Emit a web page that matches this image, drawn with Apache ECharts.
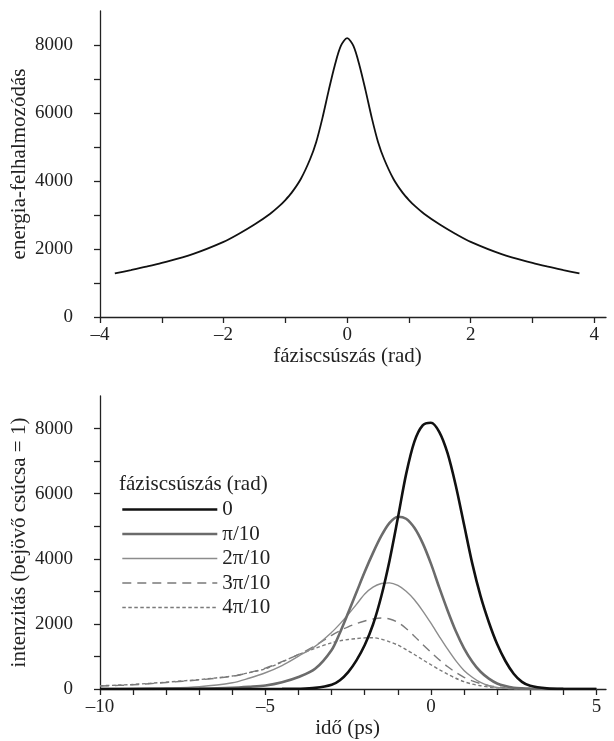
<!DOCTYPE html>
<html><head><meta charset="utf-8">
<script src="https://cdn.jsdelivr.net/npm/echarts@6/dist/echarts.min.js"></script>
<style>html,body{margin:0;padding:0;background:#fff}#c{width:614px;height:741px}</style>
</head><body><div id="c"></div>
<script>
// ---- top panel data ----
const phaseX = [-3.76,-3.5,-3.25,-3,-2.5,-2,-1.75,-1.5,-1.25,-1.1,-1,-0.9,-0.75,-0.6,-0.5,-0.4,-0.3,-0.2,-0.1,0,0.1,0.2,0.3,0.4,0.5,0.6,0.75,0.9,1,1.1,1.25,1.5,1.75,2,2.5,3,3.25,3.5,3.76];
const energy = [1280,1380,1480,1590,1850,2210,2450,2720,3030,3260,3440,3650,4060,4640,5150,5850,6650,7400,7980,8200,7980,7400,6650,5850,5150,4640,4060,3650,3440,3260,3030,2720,2450,2210,1850,1590,1480,1380,1280];

// ---- bottom panel data ----
const timeX = [-10,-9,-8,-7,-6,-5.5,-5,-4.5,-4,-3.5,-3,-2.75,-2.5,-2.25,-2,-1.75,-1.5,-1.25,-1,-0.75,-0.5,-0.25,0,0.25,0.5,0.75,1,1.25,1.5,1.75,2,2.25,2.5,2.75,3,3.5,4,5];
const shift0 = [0,0,0,0,0,0,1,3,8,35,130,270,520,880,1350,1980,2850,3950,5250,6600,7600,8100,8180,7900,7250,6250,5050,3850,2850,2050,1380,860,470,220,100,20,3,0];
const shift1 = [0,2,6,15,40,70,110,210,370,620,1200,1730,2340,2970,3600,4180,4700,5100,5290,5230,4950,4480,3850,3120,2420,1780,1250,840,530,320,170,90,40,20,10,3,0,0];
const shift2 = [10,15,30,70,190,330,500,720,1010,1310,1740,2000,2290,2600,2920,3130,3240,3260,3180,3000,2740,2400,2020,1620,1230,870,570,360,200,100,45,20,8,3,0,0,0,0];
const shift3 = [90,130,200,280,390,500,640,840,1060,1330,1650,1790,1910,2010,2090,2150,2180,2150,2050,1860,1620,1370,1130,900,690,510,360,250,165,105,65,35,15,6,2,0,0,0];
const shift4 = [100,140,210,290,400,500,620,830,1060,1250,1420,1480,1520,1550,1570,1575,1530,1450,1350,1210,1060,900,745,595,455,330,225,150,100,60,35,20,10,5,2,0,0,0];
const legendNames = ['0','\u03c0/10','2\u03c0/10','3\u03c0/10','4\u03c0/10'];

const yTicks = [0,1000,2000,3000,4000,5000,6000,7000,8000];
const yLabels = [0,2000,4000,6000,8000];
const phaseTicks = [-4,-3,-2,-1,0,1,2,3,4];
const phaseLabels = [-4,-2,0,2,4];
const timeTicks = [-10,-9,-8,-7,-6,-5,-4,-3,-2,-1,0,1,2,3,4,5];
const timeLabels = [-10,-5,0,5];

const FONT = "'Liberation Serif','DejaVu Serif',serif";
const AX = '#222';
const fmt = v => String(v).replace('-', '\u2013');
const zip = (xs, ys) => xs.map((x, i) => [x, ys[i]]);

function xAxis(grid, min, max, ticks, labels, name, gap) {
  return {
    type: 'value', gridIndex: grid, min: min, max: max, interval: 1,
    name: name, nameLocation: 'middle', nameGap: gap,
    nameTextStyle: {fontFamily: FONT, fontSize: 21, color: AX, padding: [0, 11, 0, 0]},
    axisLine: {onZero: false, lineStyle: {color: AX, width: 1.3}},
    axisTick: {show: true, inside: false, length: 6, customValues: ticks, lineStyle: {color: AX, width: 1.3}},
    axisLabel: {customValues: labels, formatter: fmt, margin: 9, fontFamily: FONT, fontSize: 19, color: AX},
    splitLine: {show: false}
  };
}
function yAxis(grid, name) {
  return {
    type: 'value', gridIndex: grid, min: 0, max: 9000, interval: 1000,
    name: name, nameLocation: 'middle', nameGap: 70, nameRotate: 90, nameMoveOverlap: false,
    nameTextStyle: {fontFamily: FONT, fontSize: 21, color: AX},
    axisLine: {show: true, onZero: false, lineStyle: {color: AX, width: 1.3}},
    axisTick: {show: true, inside: false, length: 6, customValues: yTicks, lineStyle: {color: AX, width: 1.3}},
    axisLabel: {customValues: yLabels, formatter: v => String(v), margin: 27, fontFamily: FONT, fontSize: 19, color: AX},
    splitLine: {show: false}
  };
}

const styles = [
  {color: '#111111', width: 2.6, type: 'solid'},
  {color: '#6b6b6b', width: 2.6, type: 'solid'},
  {color: '#8c8c8c', width: 1.4, type: 'solid'},
  {color: '#7a7a7a', width: 1.4, type: [9, 6]},
  {color: '#7a7a7a', width: 1.4, type: [3.5, 2.5]}
];
const shifts = [shift0, shift1, shift2, shift3, shift4];

const chart = echarts.init(document.getElementById('c'), null, {renderer: 'canvas'});
chart.setOption({
  animation: false,
  backgroundColor: '#fff',
  title: {
    text: 'f\u00e1ziscs\u00fasz\u00e1s (rad)', left: 119, top: 474, padding: 0,
    textStyle: {fontFamily: FONT, fontSize: 21, fontWeight: 'normal', color: AX}
  },
  legend: {
    data: legendNames.map((n, i) => ({
      name: n,
      lineStyle: {color: styles[i].color, width: styles[i].width, type: styles[i].type}
    })),
    orient: 'vertical', left: 116, top: 494,
    itemWidth: 95, itemHeight: 14, itemGap: 3.5,
    itemStyle: {opacity: 0},
    textStyle: {fontFamily: FONT, fontSize: 21, color: AX, lineHeight: 21}
  },
  grid: [
    {left: 100, top: 11, width: 506, height: 306, outerBoundsMode: 'none', containLabel: false},
    {left: 100, top: 396, width: 506, height: 293, outerBoundsMode: 'none', containLabel: false}
  ],
  xAxis: [
    xAxis(0, -4, 4.19, phaseTicks, phaseLabels, 'f\u00e1ziscs\u00fasz\u00e1s (rad)', 28),
    xAxis(1, -10, 5.29, timeTicks, timeLabels, 'id\u0151 (ps)', 28)
  ],
  yAxis: [
    yAxis(0, 'energia-felhalmoz\u00f3d\u00e1s'),
    yAxis(1, 'intenzit\u00e1s (bej\u00f6v\u0151 cs\u00facsa = 1)')
  ],
  series: [
    {
      type: 'line', xAxisIndex: 0, yAxisIndex: 0, showSymbol: false, symbol: 'none',
      smooth: 0.3,
      data: zip(phaseX, energy), lineStyle: {color: '#111', width: 1.8}, silent: true
    }
  ].concat(shifts.map((s, i) => ({
    type: 'line', name: legendNames[i], xAxisIndex: 1, yAxisIndex: 1,
    showSymbol: false, symbol: 'none', smooth: 0.3, z: 10 - i,
    data: zip(timeX, s), color: styles[i].color,
    lineStyle: {color: styles[i].color, width: styles[i].width, type: styles[i].type},
    itemStyle: {color: styles[i].color}
  })))
});
</script></body></html>
